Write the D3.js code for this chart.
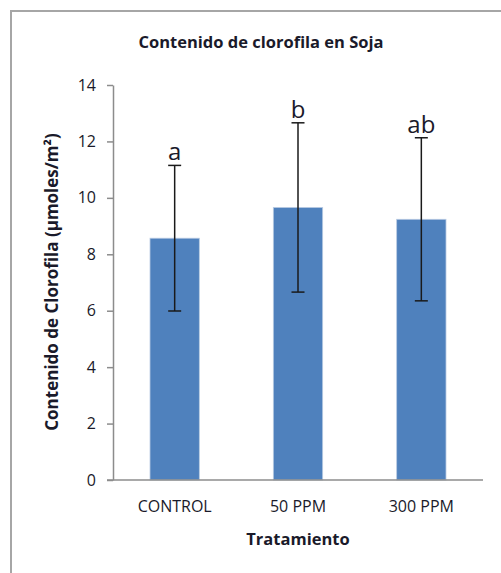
<!DOCTYPE html>
<html>
<head>
<meta charset="utf-8">
<script src="https://cdn.jsdelivr.net/npm/d3@7"></script>
<style>
  body { margin: 0; background: #fff; }
  text { font-family: "Open Sans", "Noto Sans", sans-serif; fill: #1a1a2a; }
</style>
</head>
<body>
<div id="chart"></div>
<script>
const categories = ['CONTROL', '50 PPM', '300 PPM'];
const means = [8.57, 9.66, 9.24];
const errors = [2.58, 3.0, 2.89];
const letters = ['a', 'b', 'ab'];
const yTicks = [0, 2, 4, 6, 8, 10, 12, 14];

const width = 501;
const height = 573;
const barColor = '#4f81bd';
const axisColor = '#8c8c8c';
const errColor = '#1a1a1a';
const textColor = '#15152a';
const margin = {top: 85, right: 18, bottom: 93, left: 113};

const svg = d3.select('#chart')
  .append('svg')
  .attr('width', width)
  .attr('height', height);

// chart frame (right and bottom edges run off the picture)
svg.append('rect')
  .attr('x', 11)
  .attr('y', 11)
  .attr('width', width + 20)
  .attr('height', height + 20)
  .attr('fill', 'none')
  .attr('stroke', '#a6a6a6')
  .attr('stroke-width', 2);

const xScale = d3.scaleBand()
  .domain(categories)
  .range([margin.left, width - margin.right])
  .paddingInner(0.6)
  .paddingOuter(0.3);

const yScale = d3.scaleLinear()
  .domain([0, 14])
  .range([height - margin.bottom, margin.top]);

// bars
svg.append('g')
  .selectAll('rect')
  .data(categories)
  .join('rect')
  .attr('x', d => xScale(d))
  .attr('y', (d, i) => yScale(means[i]))
  .attr('width', xScale.bandwidth())
  .attr('height', (d, i) => yScale(0) - yScale(means[i]))
  .attr('fill', barColor)
  .attr('stroke', '#b9cbe3')
  .attr('stroke-width', 0.8);

// y axis
const yAxis = svg.append('g')
  .attr('transform', `translate(${margin.left},0)`)
  .call(d3.axisLeft(yScale).tickValues(yTicks).tickSize(6).tickPadding(11).tickSizeOuter(0));
yAxis.select('.domain').attr('stroke', axisColor).attr('stroke-width', 1.5);
yAxis.selectAll('line').attr('stroke', axisColor).attr('stroke-width', 1.5);
yAxis.selectAll('text')
  .attr('font-size', 16)
  .attr('font-weight', 500)
  .attr('fill', textColor);

// x axis
const xAxis = svg.append('g')
  .attr('transform', `translate(0,${yScale(0)})`)
  .call(d3.axisBottom(xScale).tickSize(0).tickPadding(21).tickSizeOuter(0));
xAxis.select('.domain').attr('stroke', axisColor).attr('stroke-width', 1.5)
  .attr('d', `M${margin.left - 6},0H${width - margin.right}`);
xAxis.selectAll('text')
  .attr('font-size', 16)
  .attr('font-weight', 500)
  .attr('fill', textColor);

// error bars
const errGroup = svg.append('g')
  .selectAll('g')
  .data(categories)
  .join('g')
  .attr('transform', d => `translate(${xScale(d) + xScale.bandwidth() / 2},0)`);

errGroup.append('line')
  .attr('y1', (d, i) => yScale(means[i] - errors[i]))
  .attr('y2', (d, i) => yScale(means[i] + errors[i]))
  .attr('stroke', errColor)
  .attr('stroke-width', 1.5);

errGroup.append('line')
  .attr('x1', -6.5).attr('x2', 6.5)
  .attr('y1', (d, i) => yScale(means[i] + errors[i]))
  .attr('y2', (d, i) => yScale(means[i] + errors[i]))
  .attr('stroke', errColor)
  .attr('stroke-width', 1.5);

errGroup.append('line')
  .attr('x1', -6.5).attr('x2', 6.5)
  .attr('y1', (d, i) => yScale(means[i] - errors[i]))
  .attr('y2', (d, i) => yScale(means[i] - errors[i]))
  .attr('stroke', errColor)
  .attr('stroke-width', 1.5);

// significance letters
errGroup.append('text')
  .attr('text-anchor', 'middle')
  .attr('y', (d, i) => yScale(means[i] + errors[i]) - 5)
  .attr('font-size', 24)
  .attr('fill', textColor)
  .text((d, i) => letters[i]);

// title
svg.append('text')
  .attr('x', 261)
  .attr('y', 48)
  .attr('text-anchor', 'middle')
  .attr('font-size', 16.5)
  .attr('font-weight', 'bold')
  .attr('fill', textColor)
  .text('Contenido de clorofila en Soja');

// axis titles
svg.append('text')
  .attr('transform', 'translate(58,282) rotate(-90)')
  .attr('text-anchor', 'middle')
  .attr('font-size', 17)
  .attr('font-weight', 'bold')
  .attr('fill', textColor)
  .text('Contenido de Clorofila (µmoles/m²)');

svg.append('text')
  .attr('x', 298)
  .attr('y', 545)
  .attr('text-anchor', 'middle')
  .attr('font-size', 16.5)
  .attr('font-weight', 'bold')
  .attr('fill', textColor)
  .text('Tratamiento');
</script>
</body>
</html>
